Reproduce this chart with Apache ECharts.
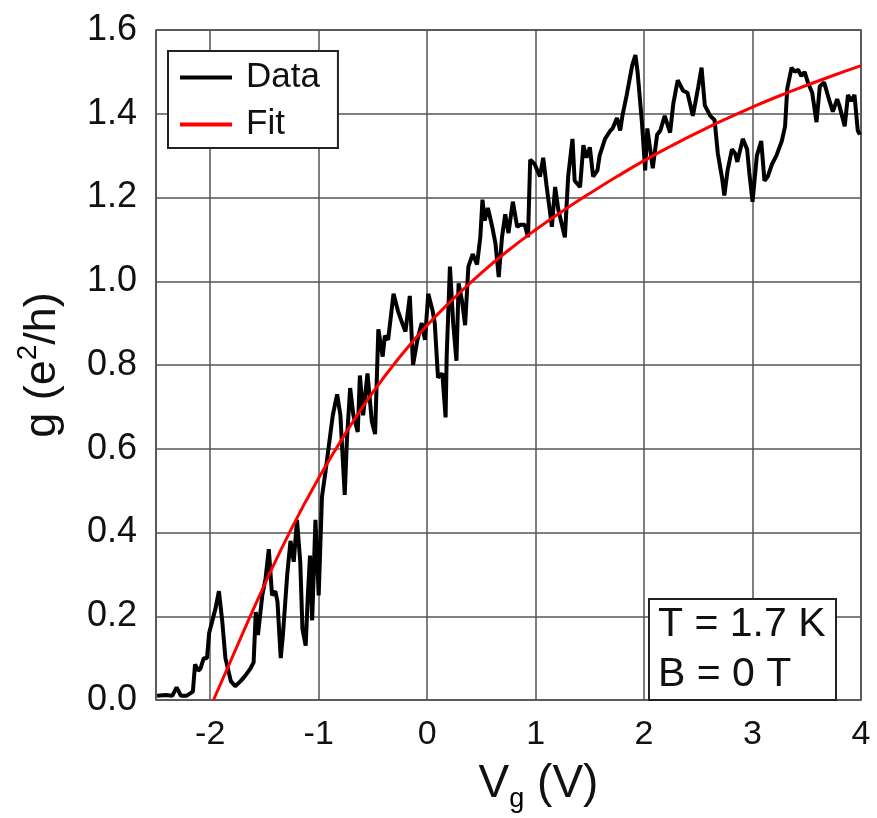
<!DOCTYPE html>
<html>
<head>
<meta charset="utf-8">
<script src="https://cdn.jsdelivr.net/npm/echarts@6/dist/echarts.min.js"></script>
<style>
  html, body { margin: 0; padding: 0; background: #fff; }
  #chart { width: 877px; height: 818px; }
</style>
</head>
<body>
<div id="chart"></div>
<script>
const dataVg = [
  -2.49, -2.41, -2.35, -2.31, -2.27, -2.22, -2.16, -2.14, -2.11, -2.09, -2.06, -2.03, -2.01, -1.98,
  -1.95, -1.92, -1.89, -1.86, -1.81, -1.77, -1.72, -1.68, -1.63, -1.60, -1.58, -1.56, -1.52, -1.49,
  -1.46, -1.43, -1.40, -1.38, -1.35, -1.33, -1.29, -1.26, -1.23, -1.20, -1.17, -1.15, -1.12, -1.10,
  -1.08, -1.06, -1.03, -1.00, -0.97, -0.94, -0.91, -0.87, -0.83, -0.80, -0.76, -0.74, -0.71, -0.68,
  -0.64, -0.62, -0.59, -0.55, -0.51, -0.48, -0.45, -0.41, -0.39, -0.36, -0.31, -0.27, -0.23, -0.20,
  -0.16, -0.13, -0.09, -0.05, -0.02, 0.01, 0.05, 0.07, 0.10, 0.14, 0.17, 0.18, 0.21, 0.24,
  0.27, 0.29, 0.32, 0.35, 0.38, 0.42, 0.46, 0.49, 0.51, 0.53, 0.56, 0.60, 0.63, 0.66,
  0.69, 0.72, 0.75, 0.79, 0.83, 0.86, 0.90, 0.93, 0.95, 0.99, 1.04, 1.07, 1.10, 1.15,
  1.18, 1.21, 1.27, 1.30, 1.34, 1.36, 1.41, 1.44, 1.47, 1.50, 1.53, 1.57, 1.59, 1.64,
  1.69, 1.71, 1.75, 1.78, 1.80, 1.84, 1.89, 1.92, 1.94, 1.98, 2.01, 2.03, 2.08, 2.12,
  2.15, 2.19, 2.24, 2.27, 2.31, 2.36, 2.40, 2.45, 2.50, 2.53, 2.56, 2.61, 2.65, 2.68,
  2.72, 2.74, 2.77, 2.81, 2.84, 2.86, 2.91, 2.95, 2.97, 3.00, 3.04, 3.08, 3.11, 3.14,
  3.18, 3.22, 3.27, 3.30, 3.32, 3.36, 3.39, 3.42, 3.45, 3.48, 3.51, 3.55, 3.59, 3.62,
  3.66, 3.71, 3.74, 3.78, 3.80, 3.85, 3.88, 3.91, 3.94, 3.97, 3.99
];
const dataG = [
  0.01, 0.012, 0.01, 0.03, 0.01, 0.01, 0.02, 0.085, 0.07, 0.075, 0.10, 0.10, 0.16, 0.19,
  0.22, 0.26, 0.19, 0.10, 0.045, 0.033, 0.045, 0.057, 0.075, 0.09, 0.21, 0.155, 0.25, 0.29,
  0.36, 0.25, 0.26, 0.235, 0.10, 0.155, 0.30, 0.38, 0.33, 0.43, 0.33, 0.17, 0.13, 0.25,
  0.345, 0.19, 0.43, 0.25, 0.485, 0.54, 0.60, 0.68, 0.73, 0.68, 0.49, 0.62, 0.745, 0.68,
  0.64, 0.775, 0.68, 0.78, 0.665, 0.635, 0.885, 0.82, 0.87, 0.86, 0.97, 0.93, 0.90, 0.88,
  0.965, 0.80, 0.86, 0.90, 0.86, 0.97, 0.93, 0.90, 0.77, 0.78, 0.675, 0.82, 1.035, 0.90,
  0.81, 0.995, 0.955, 0.895, 1.035, 1.065, 1.04, 1.105, 1.195, 1.145, 1.175, 1.13, 1.09, 1.01,
  1.105, 1.16, 1.115, 1.19, 1.13, 1.135, 1.135, 1.105, 1.29, 1.28, 1.25, 1.295, 1.23, 1.13,
  1.225, 1.17, 1.105, 1.25, 1.34, 1.24, 1.225, 1.325, 1.295, 1.32, 1.25, 1.265, 1.30, 1.34,
  1.36, 1.365, 1.39, 1.36, 1.395, 1.445, 1.515, 1.54, 1.50, 1.38, 1.265, 1.365, 1.27, 1.35,
  1.36, 1.395, 1.355, 1.425, 1.48, 1.455, 1.45, 1.395, 1.465, 1.51, 1.42, 1.395, 1.385, 1.305,
  1.245, 1.205, 1.265, 1.315, 1.305, 1.285, 1.34, 1.315, 1.26, 1.19, 1.30, 1.335, 1.24, 1.25,
  1.28, 1.30, 1.335, 1.37, 1.46, 1.51, 1.50, 1.505, 1.49, 1.50, 1.475, 1.45, 1.38, 1.465,
  1.475, 1.43, 1.405, 1.435, 1.42, 1.37, 1.445, 1.43, 1.445, 1.36, 1.35
];

// fitted curve
const fitVg = [-1.97, -1.75, -1.5, -1.25, -1.0, -0.75, -0.5, -0.25, 0, 0.25, 0.5, 0.75, 1.0,
  1.25, 1.5, 1.75, 2.0, 2.25, 2.5, 2.75, 3.0, 3.25, 3.5, 3.75, 4.0];
const fitG = [0, 0.13, 0.275, 0.41, 0.53, 0.638, 0.735, 0.82, 0.895, 0.96, 1.02, 1.074, 1.123,
  1.168, 1.21, 1.25, 1.288, 1.323, 1.356, 1.387, 1.416, 1.443, 1.468, 1.492, 1.515];

const FONT = 'Liberation Sans';

const chart = echarts.init(document.getElementById('chart'));

const option = {
  backgroundColor: '#fff',
  animation: false,
  textStyle: { fontFamily: FONT, color: '#000' },
  grid: {
    left: 156, right: 16, top: 30, bottom: 109,
    show: true, borderColor: '#444', borderWidth: 1.5, backgroundColor: 'transparent'
  },
  legend: {
    orient: 'vertical',
    left: 168, top: 51,
    padding: [9, 18, 6, 12],
    itemGap: 12,
    icon: 'rect',
    itemWidth: 52, itemHeight: 4,
    backgroundColor: '#fff',
    borderColor: '#222', borderWidth: 2,
    textStyle: { fontSize: 35, color: '#111', padding: [0, 0, 0, 9] },
    data: ['Data', 'Fit']
  },
  title: {
    text: 'T = 1.7 K\nB = 0 T',
    left: 649, top: 599,
    padding: [1, 11, 0, 9],
    backgroundColor: '#fff',
    borderColor: '#222', borderWidth: 2,
    textStyle: { fontSize: 41, fontWeight: 'normal', color: '#111', lineHeight: 50, fontFamily: FONT }
  },
  xAxis: {
    type: 'value',
    min: -2.5, max: 4,
    name: 'V{sub|g} (V)',
    nameLocation: 'middle',
    nameGap: 56,
    nameTextStyle: {
      fontSize: 46, color: '#111',
      padding: [0, 0, 0, 60],
      rich: { sub: { fontSize: 27, padding: [30, 0, 0, 0] } }
    },
    axisLine: { show: false },
    axisTick: { show: false },
    axisLabel: { fontSize: 34, color: '#111', margin: 18, showMinLabel: false },
    splitLine: { show: true, lineStyle: { color: '#555', width: 1.5 } }
  },
  yAxis: {
    type: 'value',
    min: 0, max: 1.6, interval: 0.2,
    name: 'g (e{sup|2}/h)',
    nameLocation: 'middle',
    nameGap: 84,
    nameTextStyle: {
      fontSize: 45, color: '#111',
      rich: { sup: { fontSize: 28, padding: [0, 0, 30, 0] } }
    },
    axisLine: { show: false },
    axisTick: { show: false },
    axisLabel: { fontSize: 36, color: '#111', margin: 19, formatter: v => v.toFixed(1) },
    splitLine: { show: true, lineStyle: { color: '#555', width: 1.5 } }
  },
  series: [
    {
      name: 'Data',
      type: 'line',
      symbol: 'none',
      lineStyle: { color: '#000', width: 4 },
      itemStyle: { color: '#000' },
      data: dataVg.map((v, i) => [v, dataG[i]]),
      z: 2
    },
    {
      name: 'Fit',
      type: 'line',
      symbol: 'none',
      smooth: true,
      lineStyle: { color: '#ff0000', width: 3 },
      itemStyle: { color: '#ff0000' },
      data: fitVg.map((v, i) => [v, fitG[i]]),
      z: 3
    }
  ]
};

chart.setOption(option);
</script>
</body>
</html>
